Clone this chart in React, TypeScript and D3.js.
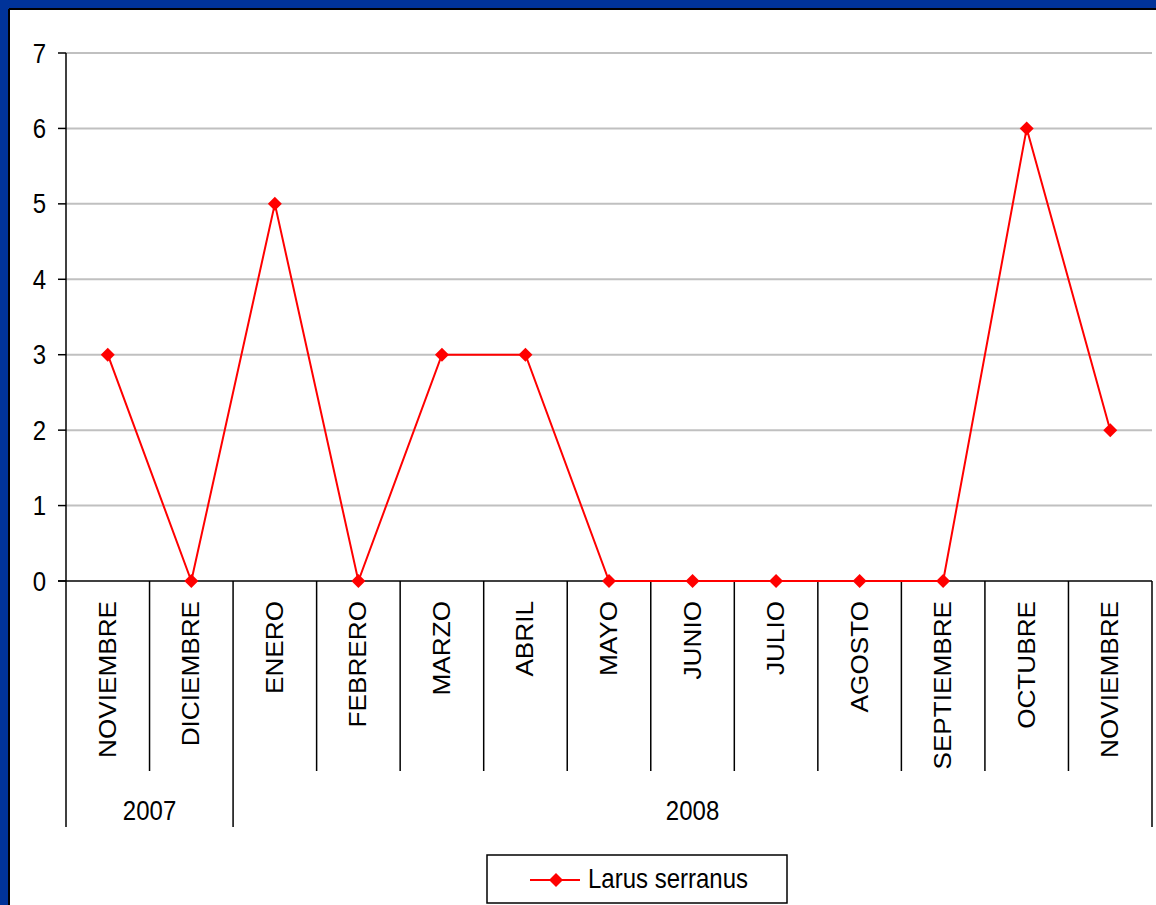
import React from "react";
import * as d3 from "d3";

const months = ["NOVIEMBRE","DICIEMBRE","ENERO","FEBRERO","MARZO","ABRIL","MAYO","JUNIO","JULIO","AGOSTO","SEPTIEMBRE","OCTUBRE","NOVIEMBRE"];
const values = [3,0,5,0,3,3,0,0,0,0,0,6,2];
const years = [{ label: "2007", start: 0, end: 2 }, { label: "2008", start: 2, end: 13 }];
const yTicks = [0,1,2,3,4,5,6,7];
const seriesName = "Larus serranus";

export default function App() {
  const W = 1156, H = 905;
  const left = 66, right = 1152, top = 53, bottom = 581;
  const x = d3.scaleLinear().domain([0, months.length]).range([left, right]);
  const y = d3.scaleLinear().domain([0, 7]).range([bottom, top]);
  const line = d3.line<number>().x((_, i) => x(i + 0.5)).y(d => y(d));
  const font = "'Liberation Sans', Arial, sans-serif";
  const fs = 24;
  const sy = 1.12;
  const diamond = (cx: number, cy: number, r: number) => `M${cx},${cy - r}L${cx + r},${cy}L${cx},${cy + r}L${cx - r},${cy}Z`;
  return (
    <svg width={W} height={H} style={{ position: "absolute", left: 0, top: 0 }} fontFamily={font}>
      <rect x={0} y={0} width={W} height={H} fill="#003399" />
      <rect x={9} y={9} width={W - 9} height={H - 9} fill="#fff" />
      <line x1={9} y1={9} x2={W} y2={9} stroke="#000" strokeWidth={2} />
      <line x1={9} y1={9} x2={9} y2={H} stroke="#000" strokeWidth={2} />
      {yTicks.filter(t => t > 0).map(t => (
        <line key={"g" + t} x1={left} x2={right} y1={y(t)} y2={y(t)} stroke="#c0c0c0" strokeWidth={2} />
      ))}
      {yTicks.map(t => (
        <g key={"t" + t}>
          <line x1={left - 8} x2={left} y1={y(t)} y2={y(t)} stroke="#000" strokeWidth={1.5} />
          <text transform={`translate(${left - 20},${y(t) + 9.5}) scale(1,${sy})`} textAnchor="end" fontSize={fs}>{t}</text>
        </g>
      ))}
      <line x1={left} x2={left} y1={top} y2={bottom} stroke="#000" strokeWidth={1.5} />
      <line x1={left - 8} x2={right} y1={bottom} y2={bottom} stroke="#000" strokeWidth={1.5} />
      {d3.range(months.length + 1).map(i => {
        const isYear = years.some(yr => yr.start === i || yr.end === i);
        return <line key={"c" + i} x1={x(i)} x2={x(i)} y1={bottom} y2={isYear ? 827 : 771} stroke="#000" strokeWidth={1.5} />;
      })}
      {months.map((m, i) => (
        <text key={"m" + i} transform={`translate(${x(i + 0.5) + 8},601) rotate(-90) scale(1.09,1)`} textAnchor="end" fontSize={fs}>{m}</text>
      ))}
      {years.map(yr => (
        <text key={yr.label} transform={`translate(${(x(yr.start) + x(yr.end)) / 2},820) scale(1,${sy})`} textAnchor="middle" fontSize={fs}>{yr.label}</text>
      ))}
      <path d={line(values) || ""} fill="none" stroke="#ff0000" strokeWidth={2} />
      {values.map((v, i) => (
        <path key={"p" + i} d={diamond(x(i + 0.5), y(v), 7)} fill="#ff0000" />
      ))}
      <rect x={487} y={855} width={300} height={48} fill="#fff" stroke="#000" strokeWidth={1.5} />
      <line x1={530} x2={580} y1={880} y2={880} stroke="#ff0000" strokeWidth={2} />
      <path d={diamond(556, 880, 7)} fill="#ff0000" />
      <text transform={`translate(588,888) scale(1,${sy})`} fontSize={fs}>{seriesName}</text>
    </svg>
  );
}
